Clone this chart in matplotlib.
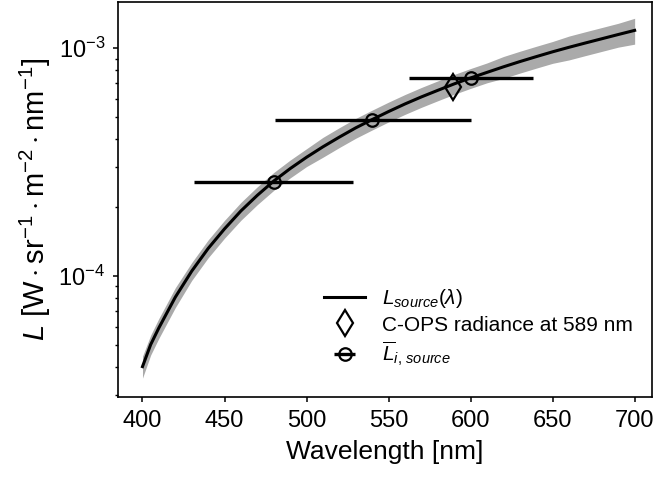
import matplotlib.pyplot as plt

plt.rcParams['font.family'] = ['Liberation Sans', 'DejaVu Sans']
plt.rcParams['mathtext.fontset'] = 'custom'
plt.rcParams['mathtext.rm'] = 'Liberation Sans'
plt.rcParams['mathtext.it'] = 'Liberation Sans:italic'

# source radiance
wavelength = [400, 405, 410, 420, 430, 440, 450, 460, 470, 480, 490, 500, 510, 520, 530,
              540, 550, 560, 570, 580, 590, 600, 610, 620, 630, 640, 650, 660, 670, 680,
              690, 700]
radiance = [4.0e-5, 5.0e-5, 5.92e-5, 8.07e-5, 1.05e-4, 1.32e-4, 1.61e-4, 1.93e-4, 2.26e-4,
            2.61e-4, 2.96e-4, 3.32e-4, 3.69e-4, 4.07e-4, 4.47e-4, 4.86e-4, 5.27e-4, 5.69e-4,
            6.11e-4, 6.53e-4, 6.97e-4, 7.40e-4, 7.83e-4, 8.28e-4, 8.73e-4, 9.18e-4, 9.64e-4,
            1.009e-3, 1.054e-3, 1.10e-3, 1.148e-3, 1.197e-3]
rel_unc = [0.11, 0.10, 0.10, 0.10, 0.09, 0.09, 0.09, 0.09, 0.09, 0.09, 0.09, 0.09, 0.10,
           0.10, 0.10, 0.10, 0.10, 0.10, 0.10, 0.10, 0.10, 0.10, 0.10, 0.11, 0.11, 0.11,
           0.11, 0.12, 0.12, 0.12, 0.12, 0.13]

# C-OPS point
cops_wl = 589
cops_val = 6.78e-4

# band averaged radiance
band_center = [480, 540, 600]
band_val = [2.59e-4, 4.84e-4, 7.38e-4]
band_xerr_lo = [48.5, 59.5, 37.5]
band_xerr_hi = [48.5, 60.0, 38.0]

lower = [r * (1 - u) for r, u in zip(radiance, rel_unc)]
upper = [r * (1 + u) for r, u in zip(radiance, rel_unc)]

fig = plt.figure(figsize=(6.54, 4.78), dpi=100)
ax = fig.add_axes([0.181, 0.170, 0.8155, 0.8265])

ax.fill_between(wavelength, lower, upper, color='#aaaaaa', lw=0)
ax.plot(wavelength, radiance, color='black', lw=2.2, label=r'$L_{source}(\lambda)$')
ax.plot([cops_wl], [cops_val], ls='none', marker='d', ms=13, mfc='none', mec='black',
        mew=1.6, label='C-OPS radiance at 589 nm')
ax.errorbar(band_center, band_val, xerr=[band_xerr_lo, band_xerr_hi], fmt='o', ms=9,
            mfc='none', mec='black', mew=1.6, ecolor='black', elinewidth=2.4,
            capsize=0, label=r'$\overline{L}_{i,\,source}$')

ax.set_yscale('log')
ax.set_xlim(385.3, 710.4)
ax.set_ylim(2.95e-5, 1.6e-3)
ax.set_xticks([400, 450, 500, 550, 600, 650, 700])
ax.tick_params(labelsize=17, width=1.1, pad=6)
ax.tick_params(which='minor', width=1.0)
for s in ax.spines.values():
    s.set_linewidth(1.2)

ax.set_xlabel('Wavelength [nm]', fontsize=19, labelpad=6)
ax.set_ylabel(r'$L\ [\mathrm{W \cdot sr^{-1} \cdot m^{-2} \cdot nm^{-1}}]$', fontsize=21)

ax.legend(loc='lower right', bbox_to_anchor=(1.0, 0.025), frameon=False,
          fontsize=15, labelspacing=0.25, handletextpad=0.8)

fig.savefig('out.png', dpi=100)
